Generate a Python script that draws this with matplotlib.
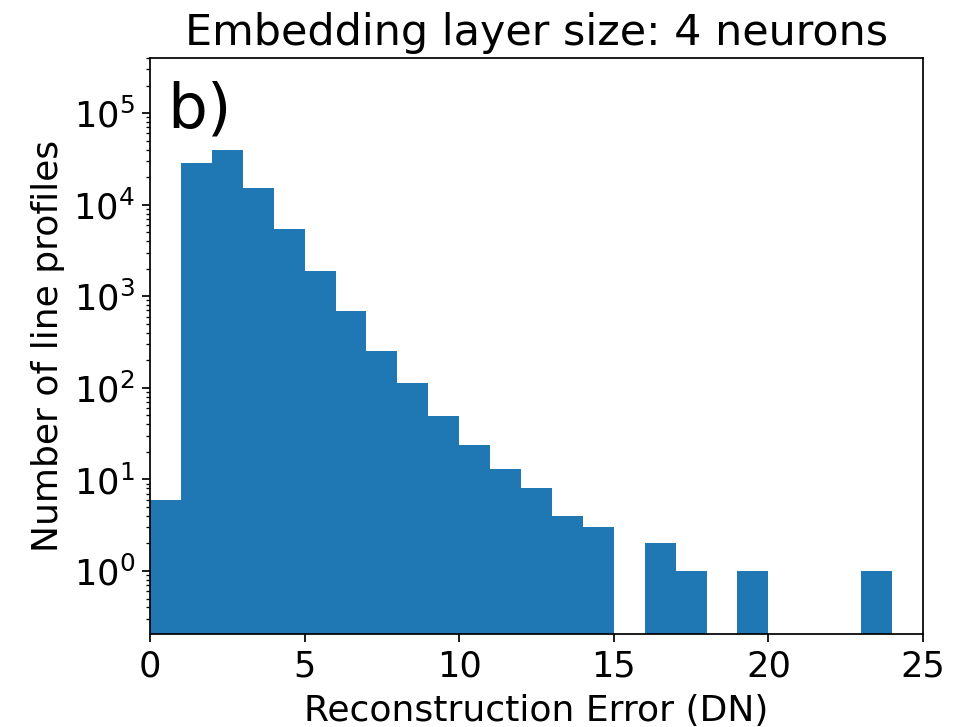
import numpy as np
import matplotlib
matplotlib.use("Agg")
import matplotlib.pyplot as plt

# bin edges (DN) and counts per bin
bin_edges = np.arange(0, 25, 1)
counts = [6, 28700, 39500, 15400, 5460, 1900, 695, 252, 113, 49, 24, 13, 8, 4, 3,
          0, 2, 1, 0, 1, 0, 0, 0, 1]

fig = plt.figure(figsize=(956 / 156, 727 / 156), dpi=156)
ax = fig.add_axes([150 / 956, 1 - 634 / 727, 773 / 956, 576 / 727])

ax.hist(bin_edges[:-1], bins=bin_edges, weights=counts, log=True, color="tab:blue")

ax.set_xlim(0, 25)
ax.set_ylim(0.205, 4e5)
ax.set_xticks([0, 5, 10, 15, 20, 25])
ax.tick_params(labelsize=16.3)

ax.set_title("Embedding layer size: 4 neurons", fontsize=19.8)
ax.set_xlabel("Reconstruction Error (DN)", fontsize=16.7, labelpad=5)
ax.set_ylabel("Number of line profiles", fontsize=16.7)
ax.text(0.022, 0.88, "b)", transform=ax.transAxes, fontsize=29, va="baseline")

fig.savefig("out.png", dpi=156)
